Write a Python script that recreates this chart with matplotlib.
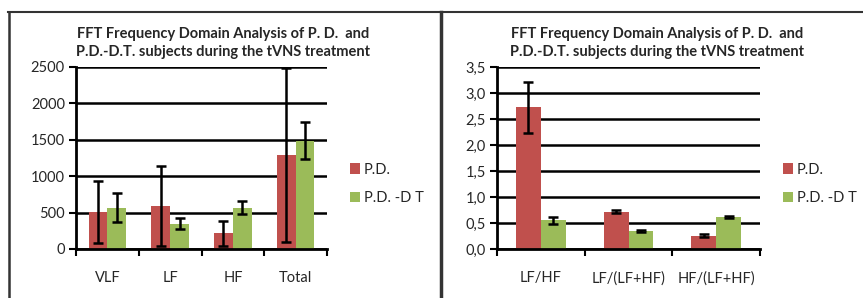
import matplotlib
matplotlib.use("Agg")
import matplotlib.pyplot as plt
import numpy as np
from matplotlib.lines import Line2D

plt.rcParams['font.family'] = ['Lato', 'DejaVu Sans']

title = "FFT Frequency Domain Analysis of P. D.  and\nP.D.-D.T. subjects during the tVNS treatment"
series = ["P.D.", "P.D. -D T"]
colors = ["#C0504D", "#9BBB59"]

cats_left = ["VLF", "LF", "HF", "Total"]
pd_left = [510, 590, 215, 1290]
pd_left_err = [425, 545, 170, 1190]
dt_left = [570, 350, 570, 1490]
dt_left_err = [195, 80, 95, 250]
yticks_left = [0, 500, 1000, 1500, 2000, 2500]
yticklabels_left = ["0", "500", "1000", "1500", "2000", "2500"]

cats_right = ["LF/HF", "LF/(LF+HF)", "HF/(LF+HF)"]
pd_right = [2.73, 0.72, 0.255]
pd_right_err = [0.49, 0.03, 0.03]
dt_right = [0.55, 0.35, 0.62]
dt_right_err = [0.065, 0.02, 0.015]
yticks_right = [0, 0.5, 1.0, 1.5, 2.0, 2.5, 3.0, 3.5]
yticklabels_right = ["0,0", "0,5", "1,0", "1,5", "2,0", "2,5", "3,0", "3,5"]

W, H = 863, 298
fig = plt.figure(figsize=(W/100, H/100), dpi=100)
tc = "#262626"
fs = 10.5

def make(ax_rect, cats, a, ae, b, be, yt, ytl, bw, title_x, leg_x):
    ax = fig.add_axes(ax_rect)
    x = np.arange(len(cats))
    ekw = dict(ecolor="black", elinewidth=1.8, capsize=3.5, capthick=1.8)
    ax.bar(x - bw/2, a, bw, yerr=ae, color=colors[0], label=series[0], error_kw=ekw, zorder=3)
    ax.bar(x + bw/2, b, bw, yerr=be, color=colors[1], label=series[1], error_kw=ekw, zorder=3)
    ax.set_xlim(-0.5, len(cats) - 0.5)
    ax.set_ylim(yt[0], yt[-1])
    ax.set_yticks(yt)
    ax.set_yticklabels(ytl, fontsize=fs, color=tc)
    ax.set_xticks(x)
    ax.set_xticklabels(cats, fontsize=fs, color=tc)
    ax.set_xticks(np.arange(len(cats) + 1) - 0.5, minor=True)
    ax.tick_params(axis='x', which='major', length=0, pad=16)
    ax.tick_params(axis='x', which='minor', length=5, width=1.5, direction='out')
    ax.tick_params(axis='y', length=5, width=1.5, direction='out', pad=3)
    ax.yaxis.grid(True, color="black", linewidth=1.8, zorder=0)
    ax.set_axisbelow(True)
    for s in ["top", "right"]:
        ax.spines[s].set_visible(False)
    for s in ["left", "bottom"]:
        ax.spines[s].set_linewidth(2)
        ax.spines[s].set_color("black")
    ax.spines["bottom"].set_zorder(5)
    fig.text(title_x/W, 1 - 27/H, title, ha="center", va="top", fontsize=10.5,
             fontweight="bold", color=tc, linespacing=1.4)
    ax.legend(loc="center left", bbox_to_anchor=(leg_x/W, 1 - 184/H), bbox_transform=fig.transFigure,
              frameon=False, fontsize=fs, handlelength=0.7, handleheight=0.7,
              handletextpad=0.25, labelspacing=1.0, borderaxespad=0, borderpad=0)
    for t in ax.get_legend().get_texts():
        t.set_color(tc)
    return ax

make([76/W, 49/H, 251/W, 182/H], cats_left, pd_left, pd_left_err, dt_left, dt_left_err,
     yticks_left, yticklabels_left, 0.3, 223, 350)
make([497/W, 49/H, 263/W, 182/H], cats_right, pd_right, pd_right_err, dt_right, dt_right_err,
     yticks_right, yticklabels_right, 0.285, 657, 783)

# panel frames
lc = "#333333"
fig.add_artist(Line2D([8/W, 1], [1 - 11.5/H] * 2, transform=fig.transFigure, color=lc, lw=1.5))
fig.add_artist(Line2D([9/W] * 2, [0, 1 - 11.5/H], transform=fig.transFigure, color=lc, lw=1.8))
fig.add_artist(Line2D([441/W] * 2, [0, 1 - 11.5/H], transform=fig.transFigure, color=lc, lw=2.5))

fig.savefig("out.png", dpi=100)
